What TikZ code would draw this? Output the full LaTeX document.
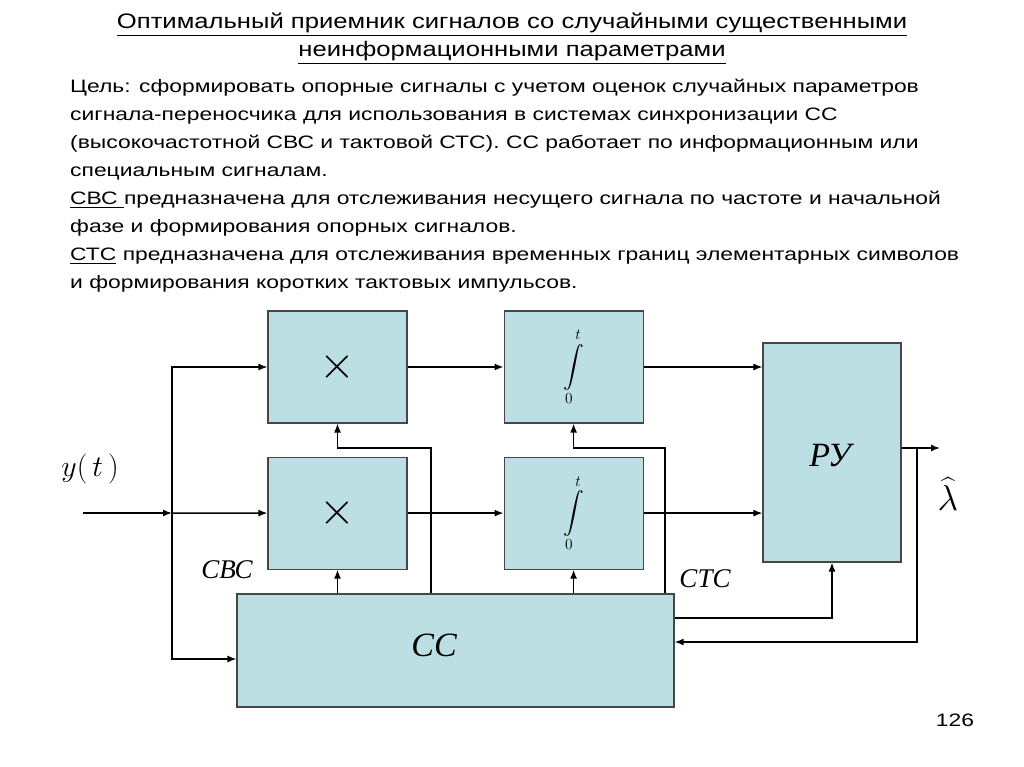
\documentclass[tikz,border=0pt]{standalone}
\usepackage{fix-cm}
\usepackage{amsmath}
\usepackage{fontspec}
\setmainfont{Liberation Sans}
\newfontfamily\titlefont[FakeStretch=1.22]{Liberation Sans}
\newfontfamily\bodyfont[FakeStretch=1.27]{Liberation Sans}
\newfontfamily\lblfont{Liberation Serif}
\usepackage{xcolor}
\usetikzlibrary{arrows.meta, positioning, calc}

\definecolor{boxfill}{RGB}{187,223,227}
\definecolor{boxline}{RGB}{70,70,70}

\begin{document}
\begin{tikzpicture}[
    x=1pt, y=-1pt,
    node distance=33pt and 96pt,
    >={Latex[length=9pt, width=7pt]},
    blk/.style  ={rectangle, draw=boxline, line width=1.1pt, fill=boxfill,
                  minimum width=139pt, minimum height=112pt, inner sep=0pt},
    sig/.style  ={->, line width=1.5pt},
    lbl/.style  ={font=\lblfont\itshape\fontsize{27}{27}\selectfont},
    big/.style  ={font=\lblfont\itshape\fontsize{34}{34}\selectfont},
]
\useasboundingbox[fill=white] (0,0) rectangle (1024,767);

% ---- Header text ----
\node[align=center, font=\titlefont\fontsize{21}{28}\selectfont] (title) at (512,39)
  {\underline{Оптимальный приемник сигналов со случайными существенными}\\
   \underline{неинформационными параметрами}};
\node[anchor=north west, align=left, inner sep=0pt,
      font=\bodyfont\fontsize{18}{28}\selectfont] (goal) at (70,79)
  {Цель: сформировать опорные сигналы с учетом оценок случайных параметров\\
   сигнала-переносчика для использования в системах синхронизации СС\\
   (высокочастотной СВС и тактовой СТС). СС работает по информационным или\\
   специальным сигналам.\\
   \underline{СВС\ }предназначена для отслеживания несущего сигнала по частоте и начальной\\
   фазе и формирования опорных сигналов.\\
   \underline{СТС} предназначена для отслеживания временных границ элементарных символов\\
   и формирования коротких тактовых импульсов.};

% ---- Blocks ----
\node[blk] (mult1) at (337.5,367) {\fontsize{46}{46}\selectfont$\times$};
\node[blk, below=of mult1] (mult2) {\fontsize{46}{46}\selectfont$\times$};
\node[blk, right=of mult1] (int1)
  {\fontsize{22}{22}\selectfont$\displaystyle\int\limits_{0}^{t}$};
\node[blk, right=of mult2] (int2)
  {\fontsize{22}{22}\selectfont$\displaystyle\int\limits_{0}^{t}$};
\node[blk, minimum width=138pt, minimum height=219pt] (ru) at (832,452.5) {};
\node[blk, minimum width=437pt, minimum height=113pt] (ss) at (455.5,650.5) {};

% ---- Labels ----
\node[big] (rulbl) at (830,456) {РУ};
\node[big] (sslbl) at (434,645) {СС};
\node[font=\fontsize{30}{30}\selectfont] (yt) at (90,469) {$y(\,t\,)$};
\node[font=\fontsize{36}{36}\selectfont] (lam) at (948,494) {$\widehat{\lambda}$};
\node[lbl] (svs) at (227,570) {СВС};
\node[lbl] (sts) at (705,579) {СТС};
\node[font=\bodyfont\fontsize{18}{18}\selectfont] (page) at (955,720) {126};

% ---- Coordinates ----
\coordinate (in)  at (83,513);
\coordinate (jn)  at (172,513);
\coordinate (c1)  at (431,448);
\coordinate (c2)  at (665,448);
\coordinate (out) at (940,448);
\coordinate (fb)  at (917,448);

% ---- Arrows: input ----
\draw[sig] (in) -- (jn);
\draw[sig] (jn) -- (mult2);
\draw[sig] (jn) |- (mult1);
\draw[sig] (jn) |- ([yshift=-8.5pt]ss.west);

% ---- Arrows: forward ----
\draw[sig] (mult1) -- (int1);
\draw[sig] (mult2) -- (int2);
\draw[sig] (int1.east) -- (ru.west |- int1.east);
\draw[sig] (int2.east) -- (ru.west |- int2.east);
\draw[sig] (ru.east |- out) -- (out);

% ---- Arrows: synchronisation ----
\draw[sig] (mult2.south |- ss.north) -- (mult2.south);
\draw[sig] (int2.south |- ss.north) -- (int2.south);
\draw[sig] (c1 |- ss.north) -- (c1) -| (mult1.south);
\draw[sig] (c2 |- ss.north) -- (c2) -| (int1.south);
\draw[sig] ([yshift=32.5pt]ss.east) -| (ru.south);
\draw[sig] (fb) |- ([yshift=8.5pt]ss.east);

\end{tikzpicture}
\end{document}
